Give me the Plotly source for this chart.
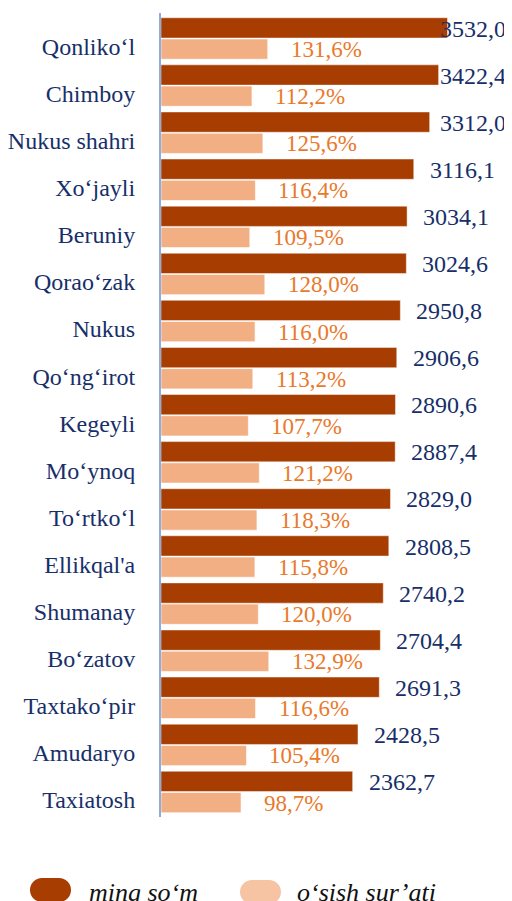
import plotly.graph_objects as go

categories = ["Qonliko‘l", "Chimboy", "Nukus shahri", "Xo‘jayli", "Beruniy", "Qorao‘zak",
              "Nukus", "Qo‘ng‘irot", "Kegeyli", "Mo‘ynoq", "To‘rtko‘l", "Ellikqal'a",
              "Shumanay", "Bo‘zatov", "Taxtako‘pir", "Amudaryo", "Taxiatosh"]
ming_som = [3532.0, 3422.4, 3312.0, 3116.1, 3034.1, 3024.6, 2950.8, 2906.6, 2890.6,
            2887.4, 2829.0, 2808.5, 2740.2, 2704.4, 2691.3, 2428.5, 2362.7]
osish = [131.6, 112.2, 125.6, 116.4, 109.5, 128.0, 116.0, 113.2, 107.7,
         121.2, 118.3, 115.8, 120.0, 132.9, 116.6, 105.4, 98.7]
series_names = ["ming so‘m", "o‘sish sur’ati"]

# page body has an 8px margin; work in window pixels and offset
OFF = 8
W, H = 512 - OFF, 901 - OFF
L, R, T, B = 161 - OFF, 7, 13 - OFF, 84
PW, PH = W - L - R, H - T - B
XMAX = 4241.0

DARK = "#A83D02"
LIGHT = "#F3AF84"
LIGHT_LEG = "#F6C3A3"
NAVY = "#172F69"
ORANGE = "#E9792B"
FONT = "Liberation Serif"

def fmt(v):
    return f"{v:.1f}".replace(".", ",")

fig = go.Figure()
fig.add_trace(go.Bar(
    y=categories, x=ming_som, orientation="h", name=series_names[0],
    marker=dict(color=DARK, line=dict(color="rgba(255,255,255,0.45)", width=1)),
    width=0.43, offset=-0.44, xaxis="x", yaxis="y", showlegend=False,
))
fig.add_trace(go.Bar(
    y=categories, x=osish, orientation="h", name=series_names[1],
    marker=dict(color=LIGHT, line=dict(color="rgba(255,255,255,0.6)", width=1)),
    width=0.43, offset=0.01, xaxis="x2", yaxis="y", showlegend=False,
))

annotations = []
scale = PW / XMAX
for i, (c, v) in enumerate(zip(categories, ming_som)):
    px_end = v * scale
    if px_end + 16 + 63 > PW:
        annotations.append(dict(x=1, xref="paper", y=i, yref="y", yshift=10, text=fmt(v),
                                xanchor="right", yanchor="middle", showarrow=False,
                                xshift=3, font=dict(family=FONT, size=24, color=NAVY)))
    else:
        annotations.append(dict(x=v, xref="x", y=i, yref="y", yshift=10, text=fmt(v),
                                xanchor="left", yanchor="middle", showarrow=False,
                                xshift=14, font=dict(family=FONT, size=24, color=NAVY)))
for i, (c, v) in enumerate(zip(categories, osish)):
    annotations.append(dict(x=v, xref="x2", y=i, yref="y", yshift=-11, text=fmt(v) + "%",
                            xanchor="left", yanchor="middle", showarrow=False,
                            xshift=21, font=dict(family=FONT, size=23, color=ORANGE)))

# legend (custom pill swatches), coordinates given in window pixels
def px2paper(px, py):
    return (px - OFF - L) / PW, (H - B - (py - OFF)) / PH

def pill(x0, x1, y0, y1):
    r = (y1 - y0) / 2
    k = 0.5523 * r
    def P(x, y):
        a, b = px2paper(x, y)
        return f"{a:.5f},{b:.5f}"
    ym = (y0 + y1) / 2
    return (f"M {P(x0 + r, y0)} L {P(x1 - r, y0)} "
            f"C {P(x1 - r + k, y0)} {P(x1, ym - k)} {P(x1, ym)} "
            f"C {P(x1, ym + k)} {P(x1 - r + k, y1)} {P(x1 - r, y1)} "
            f"L {P(x0 + r, y1)} "
            f"C {P(x0 + r - k, y1)} {P(x0, ym + k)} {P(x0, ym)} "
            f"C {P(x0, ym - k)} {P(x0 + r - k, y0)} {P(x0 + r, y0)} Z")

shapes = [
    dict(type="path", xref="paper", yref="paper", path=pill(30, 71, 878, 902),
         fillcolor=DARK, line=dict(width=0)),
    dict(type="path", xref="paper", yref="paper", path=pill(240, 281, 880, 904),
         fillcolor=LIGHT_LEG, line=dict(width=0)),
]
for txt, px in [(series_names[0], 87), (series_names[1], 295)]:
    ax, ay = px2paper(px, 893)
    annotations.append(dict(x=ax, y=ay, xref="paper", yref="paper", text=f"<i>{txt}</i>",
                            xanchor="left", yanchor="middle", showarrow=False,
                            font=dict(family=FONT, size=26, color="#111111")))

fig.update_layout(
    width=W, height=H,
    margin=dict(l=L, r=R, t=T, b=B, pad=0, autoexpand=False),
    paper_bgcolor="white", plot_bgcolor="white",
    barmode="overlay",
    xaxis=dict(range=[0, XMAX], visible=False, fixedrange=True),
    xaxis2=dict(range=[0, XMAX / 10], overlaying="x", side="top", visible=False),
    yaxis=dict(autorange="reversed", showline=True, linecolor="#8FAADC", linewidth=2,
               showgrid=False, zeroline=False, ticks="", ticklabelstandoff=19,
               ticklabelshift=-8, automargin=False,
               tickfont=dict(family=FONT, size=24, color=NAVY)),
    annotations=annotations, shapes=shapes,
    showlegend=False,
)
fig.write_html("out.html")
